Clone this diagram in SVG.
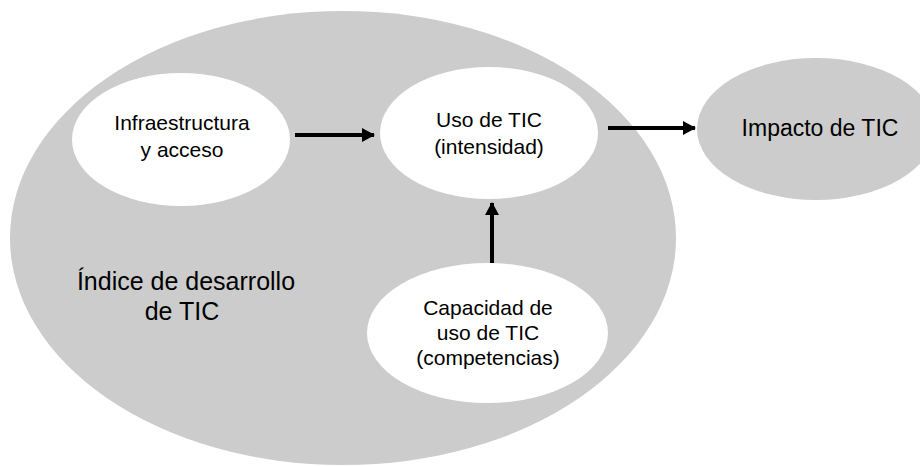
<svg xmlns="http://www.w3.org/2000/svg" width="920" height="466" viewBox="0 0 920 466">
<style>
.gray{fill:#cccccc}
.white{fill:#ffffff}
text{font-family:"Liberation Sans",Arial,sans-serif;fill:#000;text-anchor:middle}
.t{font-size:21px}
.big{font-size:25px}
.imp{font-size:23px}
.conn{stroke:#000;stroke-width:4;fill:none}
</style>
<defs>
<marker id="ah" markerUnits="userSpaceOnUse" markerWidth="13" markerHeight="14" refX="12" refY="7" orient="auto">
<path d="M0,0 L13,7 L0,14 Z" fill="#000"/>
</marker>
</defs>
<g id="idt">
<ellipse class="gray" cx="343" cy="238" rx="333" ry="227"/>
<text class="big" x="186" y="290">Índice de desarrollo</text>
<text class="big" x="182" y="320">de TIC</text>
</g>
<g id="impacto">
<ellipse class="gray" cx="816" cy="129" rx="119" ry="71"/>
<text class="imp" x="820" y="136">Impacto de TIC</text>
</g>
<g id="infra">
<ellipse class="white" cx="181" cy="139.5" rx="109" ry="66.5"/>
<text class="t" x="182" y="130">Infraestructura</text>
<text class="t" x="182" y="157">y acceso</text>
</g>
<g id="uso">
<ellipse class="white" cx="489" cy="133" rx="109" ry="66"/>
<text class="t" x="489" y="127">Uso de TIC</text>
<text class="t" x="489" y="154">(intensidad)</text>
</g>
<g id="capacidad">
<ellipse class="white" cx="487.5" cy="333" rx="120.5" ry="70"/>
<text class="t" x="488" y="315">Capacidad de</text>
<text class="t" x="488" y="340">uso de TIC</text>
<text class="t" x="488" y="365">(competencias)</text>
</g>
<g id="connectors">
<line class="conn" x1="295" y1="135" x2="374" y2="135" marker-end="url(#ah)"/>
<line class="conn" x1="608" y1="128" x2="695" y2="128" marker-end="url(#ah)"/>
<line class="conn" x1="492" y1="263" x2="492" y2="203" marker-end="url(#ah)"/>
</g>
</svg>
